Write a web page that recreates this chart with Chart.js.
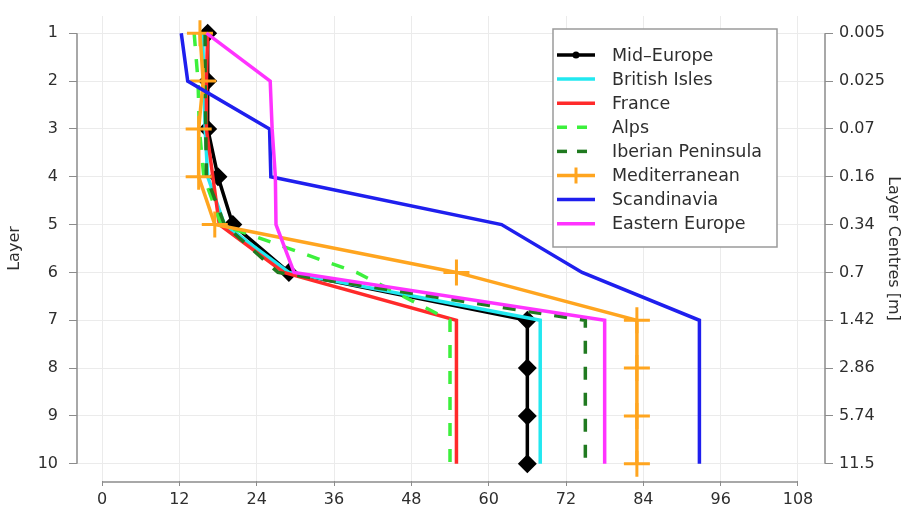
<!DOCTYPE html>
<html>
<head>
<meta charset="utf-8">
<script src="https://cdn.jsdelivr.net/npm/chart.js@4.4.0/dist/chart.umd.min.js"></script>
<style>
  html, body { margin: 0; padding: 0; background: #fff; }
  #wrap { width: 908px; height: 514px; }
</style>
</head>
<body>
<div id="wrap"><canvas id="layerChart" width="908" height="514"></canvas></div>
<script>
// layers (left axis) and their centre depths (right axis)
const layers = [1, 2, 3, 4, 5, 6, 7, 8, 9, 10];
const depthLabels = ['0.005', '0.025', '0.07', '0.16', '0.34', '0.7', '1.42', '2.86', '5.74', '11.5'];
const xTickValues = [0, 12, 24, 36, 48, 60, 72, 84, 96, 108];

// values per region, layer 1 -> 10
const midEurope     = [16.4, 16.4, 16.4, 18.0, 20.3, 29.0, 66.0, 66.0, 66.0, 66.0];
const britishIsles  = [15.6, 15.8, 16.0, 16.4, 19.0, 29.0, 68.0, 68.0, 68.0, 68.0];
const france        = [16.4, 16.2, 16.2, 17.2, 18.2, 28.2, 55.0, 55.0, 55.0, 55.0];
const alps          = [14.3, 14.9, 15.1, 15.8, 18.5, 39.5, 54.0, 54.0, 54.0, 54.0];
const iberian       = [16.0, 16.0, 16.1, 16.2, 19.0, 27.3, 75.0, 75.0, 75.0, 75.0];
const mediterranean = [15.2, 15.7, 15.0, 15.0, 17.5, 55.0, 83.0, 83.0, 83.0, 83.0];
const scandinavia   = [12.3, 13.3, 26.0, 26.2, 62.0, 74.5, 92.7, 92.7, 92.7, 92.7];
const easternEurope = [16.2, 26.1, 26.4, 26.9, 27.0, 29.8, 78.0, 78.0, 78.0, 78.0];

const FONT = '"DejaVu Sans", sans-serif';
const TEXT = '#2e2e2e';
const toPoints = vals => vals.map((v, i) => ({ x: v, y: layers[i] }));

function series(label, vals, color, extra) {
  return Object.assign({
    label: label,
    data: toPoints(vals),
    borderColor: color,
    backgroundColor: color,
    borderWidth: 3.5,
    pointRadius: 0,
    tension: 0
  }, extra || {});
}

const datasets = [
  series('Mid\u2013Europe', midEurope, '#000000', { pointStyle: 'rectRot', pointRadius: 7 }),
  series('British Isles', britishIsles, '#22e8f0'),
  series('France', france, '#ff2a2a'),
  series('Alps', alps, '#3cf03c', { borderDash: [13, 13] }),
  series('Iberian Peninsula', iberian, '#207a20', { borderDash: [13, 13] }),
  series('Mediterranean', mediterranean, '#ffa51f', { pointStyle: 'cross', pointRadius: 13, pointBorderWidth: 3 }),
  series('Scandinavia', scandinavia, '#1f1fee'),
  series('Eastern Europe', easternEurope, '#ff33ff')
];
// later series drawn on top
datasets.forEach((d, i) => { d.order = datasets.length - i; });

// R-style axis lines that only span the first..last tick
const axisLines = {
  id: 'axisLines',
  afterDraw(chart) {
    const { ctx, chartArea, scales: { x, y } } = chart;
    ctx.save();
    ctx.strokeStyle = '#8c8c8c';
    ctx.lineWidth = 1.5;
    ctx.beginPath();
    ctx.moveTo(chartArea.left, y.getPixelForValue(1));
    ctx.lineTo(chartArea.left, y.getPixelForValue(10));
    ctx.moveTo(chartArea.right, y.getPixelForValue(1));
    ctx.lineTo(chartArea.right, y.getPixelForValue(10));
    ctx.moveTo(x.getPixelForValue(xTickValues[0]), chartArea.bottom + 1);
    ctx.lineTo(x.getPixelForValue(xTickValues[xTickValues.length - 1]), chartArea.bottom + 1);
    ctx.stroke();
    ctx.restore();
  }
};

// boxed legend inside the plot, top right
const boxLegend = {
  id: 'boxLegend',
  afterDraw(chart) {
    const { ctx } = chart;
    const bx = 553, by = 29, bw = 224, bh = 218;
    ctx.save();
    ctx.fillStyle = '#fff';
    ctx.fillRect(bx, by, bw, bh);
    ctx.strokeStyle = '#9a9a9a';
    ctx.lineWidth = 1.5;
    ctx.strokeRect(bx, by, bw, bh);
    ctx.font = '17.5px ' + FONT;
    ctx.textBaseline = 'middle';
    chart.data.datasets.forEach((ds, i) => {
      const yy = 55 + i * 24.1;
      ctx.strokeStyle = ds.borderColor;
      ctx.lineWidth = 3.5;
      ctx.setLineDash(ds.borderDash ? [10, 10] : []);
      ctx.beginPath();
      ctx.moveTo(557, yy);
      ctx.lineTo(595, yy);
      ctx.stroke();
      ctx.setLineDash([]);
      if (ds.pointStyle === 'rectRot') {
        ctx.fillStyle = ds.borderColor;
        ctx.beginPath();
        ctx.arc(576, yy, 3.5, 0, Math.PI * 2);
        ctx.fill();
      } else if (ds.pointStyle === 'cross') {
        ctx.lineWidth = 3;
        ctx.beginPath();
        ctx.moveTo(576, yy - 8);
        ctx.lineTo(576, yy + 8);
        ctx.stroke();
      }
      ctx.fillStyle = TEXT;
      ctx.fillText(ds.label, 612, yy + 1);
    });
    ctx.restore();
  }
};

const tickFont = { family: FONT, size: 16 };
const titleFont = { family: FONT, size: 16 };

new Chart(document.getElementById('layerChart'), {
  type: 'line',
  data: { datasets: datasets },
  options: {
    responsive: false,
    animation: false,
    events: [],
    layout: { padding: { top: 2, left: 0, right: 0, bottom: 0 } },
    plugins: { legend: { display: false }, tooltip: { enabled: false } },
    scales: {
      x: {
        type: 'linear',
        min: -3.88,
        max: 112.19,
        afterBuildTicks(s) { s.ticks = xTickValues.map(v => ({ value: v })); },
        afterFit(s) { s.height = 33; s.paddingLeft = 0; s.paddingRight = 0; },
        border: { display: false },
        grid: { color: '#ebebeb', lineWidth: 1, tickColor: '#8c8c8c', tickLength: 5 },
        ticks: { font: tickFont, color: TEXT, padding: 4, maxRotation: 0, autoSkip: false }
      },
      y: {
        type: 'linear',
        position: 'left',
        reverse: true,
        min: 0.64,
        max: 10.36,
        afterBuildTicks(s) { s.ticks = layers.map(v => ({ value: v })); },
        afterFit(s) { s.width = 77; s.paddingTop = 0; s.paddingBottom = 0; },
        border: { display: false },
        grid: { color: '#ebebeb', lineWidth: 1, tickColor: '#8c8c8c', tickLength: 8 },
        ticks: { font: tickFont, color: TEXT, padding: 11, autoSkip: false },
        title: { display: true, text: 'Layer', font: titleFont, color: TEXT, padding: { top: 5 } }
      },
      y2: {
        type: 'linear',
        position: 'right',
        reverse: true,
        min: 0.64,
        max: 10.36,
        afterBuildTicks(s) { s.ticks = layers.map(v => ({ value: v })); },
        afterFit(s) { s.width = 83; s.paddingTop = 0; s.paddingBottom = 0; },
        border: { display: false },
        grid: { drawOnChartArea: false, tickColor: '#8c8c8c', tickLength: 8 },
        ticks: {
          font: tickFont, color: TEXT, padding: 6, autoSkip: false,
          callback: v => depthLabels[layers.indexOf(v)]
        },
        title: { display: true, text: 'Layer Centres [m]', font: titleFont, color: TEXT, padding: { top: 5 } }
      }
    }
  },
  plugins: [axisLines, boxLegend]
});
</script>
</body>
</html>
